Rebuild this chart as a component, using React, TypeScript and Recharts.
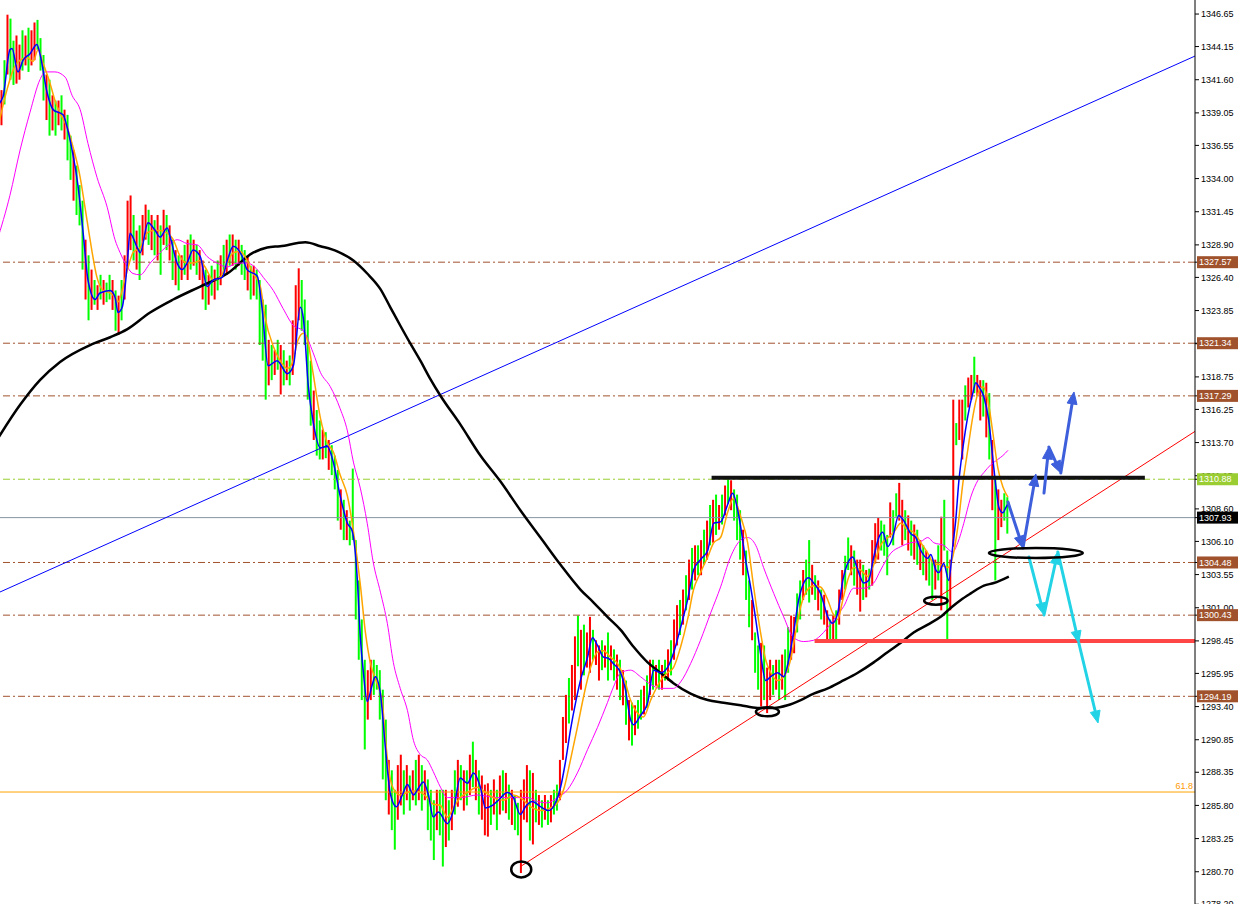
import React from 'react';
import { ComposedChart, Bar, Line, XAxis, YAxis, ReferenceLine, ReferenceDot } from 'recharts';

// ---- price axis ----
const yTicks = [1346.65, 1344.15, 1341.6, 1339.05, 1336.55, 1334.0, 1331.45, 1328.9, 1326.4, 1323.85, 1321.3, 1318.75, 1316.25, 1313.7, 1311.15, 1308.6, 1306.1, 1303.55, 1301.0, 1298.45, 1295.95, 1293.4, 1290.85, 1288.35, 1285.8, 1283.25, 1280.7, 1278.2];
const priceMin = 1278.22;
const priceMax = 1347.73;
const barSlots = 398;

// ---- bars (high / low / direction) ----
const highs = [
  1340.8, 1343.1, 1346.6, 1346.3, 1344.6, 1345.0, 1344.3, 1345.4, 1345.0, 1345.6,
  1345.4, 1346.0, 1346.2, 1344.8, 1343.5, 1342.0, 1341.6, 1340.4, 1340.0, 1340.0,
  1340.4, 1339.3, 1338.9, 1337.3, 1336.2, 1335.0, 1333.5, 1332.3, 1329.3, 1328.1,
  1327.0, 1326.2, 1325.8, 1326.6, 1326.2, 1326.0, 1326.6, 1326.2, 1325.4, 1325.0,
  1326.2, 1328.1, 1332.3, 1332.7, 1331.2, 1330.0, 1330.4, 1331.2, 1332.0, 1331.6,
  1331.2, 1330.8, 1331.2, 1330.4, 1331.6, 1331.2, 1330.4, 1329.3, 1328.5, 1328.1,
  1328.1, 1328.9, 1329.3, 1329.7, 1329.3, 1328.9, 1328.5, 1327.7, 1327.0, 1326.6,
  1327.3, 1327.0, 1327.7, 1328.1, 1328.9, 1329.3, 1329.7, 1329.7, 1329.3, 1329.3,
  1328.9, 1328.5, 1328.1, 1327.3, 1327.3, 1327.0, 1326.2, 1324.7, 1324.3, 1321.6,
  1321.2, 1320.8, 1321.6, 1321.2, 1320.8, 1320.0, 1320.4, 1323.1, 1325.8, 1327.1,
  1326.2, 1324.7, 1323.1, 1320.0, 1317.7, 1316.2, 1315.4, 1314.7, 1314.5, 1313.9,
  1313.5, 1312.7, 1311.6, 1310.1, 1309.3, 1308.5, 1307.7, 1311.7, 1306.2, 1303.1,
  1300.1, 1297.0, 1296.2, 1297.0, 1297.0, 1296.6, 1296.2, 1294.7, 1292.4, 1289.3,
  1288.5, 1287.0, 1288.9, 1289.7, 1288.5, 1288.9, 1288.1, 1288.5, 1289.3, 1289.7,
  1288.9, 1288.5, 1287.8, 1287.0, 1286.2, 1287.0, 1287.0, 1287.0, 1287.0, 1286.2,
  1287.0, 1288.5, 1289.3, 1288.9, 1288.5, 1288.5, 1289.7, 1290.7, 1289.3, 1288.5,
  1288.1, 1287.4, 1287.5, 1287.0, 1287.8, 1287.0, 1288.1, 1288.5, 1288.3, 1287.4,
  1287.0, 1286.6, 1286.0, 1287.0, 1287.8, 1288.9, 1288.5, 1288.3, 1287.0, 1286.6,
  1286.2, 1286.6, 1286.2, 1286.6, 1287.0, 1287.4, 1289.3, 1292.6, 1294.3, 1295.6,
  1296.6, 1298.8, 1300.4, 1299.3, 1299.7, 1299.1, 1300.3, 1299.3, 1298.5, 1298.1,
  1298.5, 1298.1, 1299.1, 1298.1, 1297.8, 1297.4, 1297.0, 1296.2, 1295.4, 1293.9,
  1293.7, 1293.5, 1293.9, 1294.7, 1295.0, 1295.8, 1297.0, 1297.0, 1296.6, 1297.0,
  1296.6, 1297.0, 1297.8, 1298.5, 1300.1, 1301.2, 1301.6, 1302.4, 1303.5, 1304.7,
  1305.6, 1305.8, 1305.8, 1306.2, 1307.0, 1307.7, 1308.9, 1309.3, 1309.7, 1308.9,
  1309.7, 1310.4, 1311.0, 1310.8, 1310.1, 1309.7, 1308.5, 1307.0, 1305.4, 1303.1,
  1301.6, 1299.1, 1298.1, 1298.3, 1298.1, 1296.4, 1297.0, 1296.6, 1297.0, 1297.0,
  1297.4, 1297.8, 1299.5, 1300.4, 1300.3, 1302.1, 1303.1, 1303.9, 1304.7, 1306.2,
  1304.3, 1303.5, 1303.1, 1302.4, 1302.0, 1300.8, 1300.1, 1300.4, 1300.8, 1302.4,
  1303.9, 1305.0, 1306.4, 1305.8, 1305.4, 1304.7, 1304.7, 1304.3, 1303.9, 1304.0,
  1306.2, 1307.5, 1307.9, 1307.7, 1307.4, 1306.6, 1309.1, 1308.5, 1309.8, 1310.6,
  1309.3, 1308.5, 1308.1, 1307.7, 1307.4, 1307.0, 1306.2, 1305.8, 1305.4, 1305.0,
  1304.7, 1304.7, 1305.8, 1308.0, 1309.3, 1305.4, 1304.7, 1317.0, 1315.2, 1317.0,
  1317.0, 1318.1, 1318.7, 1318.9, 1320.3, 1318.9, 1318.5, 1318.5, 1318.3, 1317.5,
  1313.9, 1311.0, 1310.1, 1309.3, 1309.8, 1309.5,
];
const lows = [
  1338.1, 1339.7, 1342.0, 1341.6, 1341.2, 1341.3, 1341.6, 1342.3, 1342.7, 1342.2,
  1342.7, 1343.1, 1343.9, 1342.3, 1340.0, 1338.5, 1337.3, 1337.7, 1337.3, 1338.1,
  1337.7, 1337.0, 1335.4, 1333.9, 1332.3, 1331.2, 1330.4, 1327.0, 1324.7, 1323.1,
  1323.9, 1324.3, 1323.9, 1324.7, 1324.3, 1324.5, 1324.7, 1323.9, 1322.3, 1322.0,
  1323.1, 1324.7, 1327.3, 1328.5, 1327.7, 1327.0, 1326.2, 1328.1, 1329.3, 1328.9,
  1328.5, 1328.1, 1327.7, 1326.6, 1328.9, 1328.5, 1327.7, 1326.2, 1325.8, 1325.4,
  1326.2, 1326.6, 1326.2, 1327.0, 1327.3, 1326.6, 1326.2, 1324.7, 1323.9, 1324.3,
  1325.0, 1324.7, 1325.4, 1325.8, 1326.6, 1326.6, 1327.3, 1327.3, 1327.0, 1327.3,
  1326.6, 1326.2, 1325.4, 1324.7, 1325.0, 1324.7, 1321.2, 1320.0, 1317.0, 1318.1,
  1318.5, 1318.9, 1319.3, 1317.4, 1318.1, 1318.5, 1318.1, 1318.9, 1321.2, 1323.1,
  1322.3, 1321.2, 1317.0, 1315.0, 1313.9, 1312.7, 1312.4, 1312.4, 1312.5, 1311.6,
  1311.2, 1310.1, 1307.7, 1307.0, 1306.2, 1306.2, 1305.8, 1306.2, 1300.1, 1297.0,
  1293.9, 1290.1, 1292.4, 1293.9, 1294.3, 1294.7, 1292.4, 1287.8, 1286.2, 1285.1,
  1283.9, 1282.4, 1284.7, 1285.8, 1285.1, 1286.2, 1285.4, 1286.2, 1285.8, 1286.2,
  1285.4, 1286.2, 1283.9, 1283.1, 1281.6, 1283.9, 1283.5, 1281.1, 1282.6, 1283.1,
  1283.9, 1285.1, 1285.7, 1286.2, 1285.4, 1285.8, 1286.6, 1287.2, 1286.2, 1285.1,
  1284.7, 1283.5, 1283.4, 1284.3, 1285.1, 1283.9, 1285.1, 1285.4, 1285.2, 1284.7,
  1284.3, 1283.9, 1283.5, 1280.6, 1284.7, 1284.5, 1283.1, 1282.8, 1284.5, 1284.3,
  1284.1, 1284.7, 1284.3, 1284.5, 1285.1, 1285.4, 1286.2, 1289.3, 1290.6, 1292.1,
  1293.1, 1293.9, 1296.5, 1294.7, 1295.8, 1296.4, 1296.0, 1297.0, 1296.6, 1295.4,
  1296.2, 1296.4, 1295.4, 1296.2, 1295.4, 1294.7, 1293.9, 1293.5, 1292.0, 1290.8,
  1290.4, 1291.2, 1291.7, 1292.4, 1292.8, 1293.3, 1294.3, 1294.7, 1295.0, 1294.7,
  1294.7, 1295.4, 1295.4, 1295.8, 1297.0, 1298.1, 1298.9, 1299.7, 1300.8, 1301.6,
  1302.4, 1303.1, 1303.5, 1303.5, 1304.3, 1304.7, 1305.8, 1306.0, 1306.6, 1307.0,
  1307.4, 1308.1, 1309.0, 1308.5, 1307.7, 1306.2, 1304.7, 1303.5, 1301.6, 1299.5,
  1298.5, 1296.0, 1294.7, 1293.4, 1293.9, 1292.9, 1293.9, 1294.3, 1294.7, 1293.9,
  1294.7, 1293.9, 1296.0, 1297.0, 1297.5, 1299.1, 1300.1, 1301.6, 1302.0, 1301.4,
  1302.0, 1301.6, 1300.8, 1300.1, 1299.7, 1298.5, 1298.5, 1298.5, 1298.5, 1299.7,
  1301.6, 1302.4, 1303.9, 1303.5, 1302.7, 1302.0, 1300.7, 1301.6, 1301.8, 1302.4,
  1302.7, 1304.4, 1304.7, 1305.4, 1305.0, 1303.5, 1306.4, 1305.8, 1308.0, 1307.7,
  1305.8, 1306.2, 1305.4, 1305.0, 1304.7, 1304.3, 1303.9, 1303.5, 1303.1, 1302.7,
  1301.6, 1302.4, 1303.1, 1300.8, 1305.4, 1298.5, 1300.8, 1305.7, 1313.5, 1313.9,
  1312.4, 1315.4, 1316.4, 1317.0, 1317.5, 1317.3, 1315.4, 1315.7, 1314.1, 1312.4,
  1308.5, 1303.1, 1306.2, 1307.2, 1307.7, 1306.7,
];
const dirs =
  'rgrggrrgrg' + 'rrgggrgrgr' + 'grggrgggrg' + 'rgrgrggrgr' + 'grrrgrgrrg' +
  'rgrgrgrgrg' + 'rgrgrgrrgr' + 'grgrgrgrgr' + 'ggrgrggggr' + 'grgrgrgrrr' +
  'ggggrggrgr' + 'gggrgrgggg' + 'ggrrgggggr' + 'ggrrgrgrgr' + 'grgggrggrg' +
  'rgrgrgrgrg' + 'rrrgrgrgrg' + 'rggrrrgrgr' + 'grgrggrrrg' + 'rrgrgrrgrr' +
  'grgrgrgrgr' + 'grggrgrgrg' + 'rgrgrrgrgr' + 'grgrgrgrgr' + 'grgrgggrgg' +
  'rggrgrrgrg' + 'rggrrggrgg' + 'rgrgrrgrgr' + 'rggrgrrgrg' + 'rrrgggrggr' +
  'rgrgrgrgrg' + 'grgrggrrgr' + 'rgrrgrrgrg' + 'rgrrgg';

// ---- moving averages (bar position, price) ----
const fastMA = [[-1,1339.6],[1,1340.3],[3.3,1343.9],[4,1344.0],[6,1342.2],[7.7,1343.1],[10,1343.6],[12.3,1344.3],[13.3,1343.6],[15.7,1340.6],[17.7,1339.3],[21,1338.9],[22.3,1338.0],[24,1336.2],[26,1333.4],[27.7,1329.8],[29.3,1326.2],[31.7,1324.7],[33.3,1325.2],[36.7,1325.4],[38.3,1324.9],[39.3,1323.7],[40.7,1324.1],[42.3,1327.2],[43.3,1329.8],[45.7,1328.7],[46.7,1328.3],[49.3,1330.6],[51.7,1330.0],[53.3,1329.5],[55.7,1330.2],[56.7,1329.5],[59,1327.5],[60.7,1327.0],[62.3,1327.5],[64.3,1328.5],[66.7,1328.0],[69,1325.7],[71,1326.2],[74,1326.4],[75.7,1327.7],[77.7,1328.8],[80.7,1328.0],[82.3,1327.0],[85.7,1326.5],[87.3,1324.0],[89.3,1319.6],[92.3,1320.0],[95.7,1319.0],[97.7,1319.6],[100,1324.1],[101,1323.3],[102.7,1318.0],[104.3,1315.3],[106.7,1313.3],[109,1313.4],[111,1312.2],[113.3,1309.6],[115.7,1307.5],[117.3,1306.9],[119,1303.2],[120,1298.8],[121,1296.1],[122.3,1293.8],[124,1295.1],[125,1295.7],[126.7,1294.4],[128.3,1290.4],[130,1286.7],[132,1285.7],[134,1286.6],[135.7,1287.4],[137.7,1286.6],[139.3,1287.1],[141,1287.6],[142.7,1286.6],[144.3,1284.9],[146,1285.3],[149,1284.4],[151,1285.4],[153.3,1287.9],[155.7,1287.5],[157.7,1288.3],[160,1287.2],[161.7,1285.6],[164,1285.8],[166,1286.2],[169,1286.8],[171,1286.4],[173.3,1285.1],[175,1285.7],[177.3,1286.1],[180,1285.7],[182.7,1285.4],[185,1286.0],[186.7,1287.2],[188.3,1289.1],[190,1291.6],[191.7,1293.7],[193.3,1295.4],[195.7,1297.2],[197.3,1298.7],[199,1298.1],[201,1297.2],[202.7,1297.1],[204.3,1296.7],[206.7,1296.0],[208.3,1294.7],[210,1292.4],[211,1292.0],[213.3,1292.7],[215.7,1293.7],[217.7,1296.2],[220,1296.0],[222.3,1296.4],[224.3,1297.5],[226.7,1299.5],[229,1301.6],[231,1303.9],[233.3,1304.7],[235.7,1305.4],[237.7,1307.5],[240,1307.6],[242.3,1308.9],[244,1309.8],[245.7,1308.5],[246.7,1307.2],[248.3,1304.7],[250,1302.6],[251.7,1300.1],[253.3,1297.5],[255,1295.4],[256.7,1295.7],[259,1296.0],[261,1295.7],[262.7,1297.0],[264.3,1299.1],[266,1301.6],[267.7,1302.9],[269.3,1303.3],[271,1302.9],[273.3,1302.1],[275.7,1300.3],[277.3,1299.8],[279,1300.6],[280.7,1303.1],[282.3,1304.4],[284,1304.9],[285.7,1303.9],[287.7,1302.9],[289.3,1303.1],[291,1304.9],[292.7,1306.4],[294,1306.8],[295.7,1305.7],[297.3,1306.4],[299.3,1308.1],[301,1307.7],[303.3,1306.7],[305,1306.4],[306.7,1305.4],[309,1304.8],[310,1305.1],[311.7,1303.9],[312.7,1303.7],[314.3,1304.4],[316,1303.1],[317.3,1305.7],[318.3,1307.7],[319.3,1310.6],[320.7,1313.3],[322.3,1315.7],[324,1317.5],[325,1318.3],[326,1318.0],[327.7,1317.2],[329.3,1315.4],[330.7,1312.4],[331.7,1310.3],[332.7,1308.7],[334,1308.3],[335,1308.7],[336,1309.1]];

const midMA = [[-1,1337.6],[2.3,1340.8],[4.3,1342.3],[6.7,1343.1],[9,1343.3],[11,1343.0],[12.7,1343.9],[14.3,1342.9],[16.7,1341.3],[18.3,1340.0],[20.7,1338.7],[22.3,1338.0],[24,1336.7],[26.7,1334.1],[28.3,1331.8],[30,1329.3],[32.3,1326.4],[34.3,1325.4],[36.7,1325.2],[38.3,1324.9],[39.3,1324.5],[41,1325.7],[42.7,1327.2],[44.3,1328.3],[46.7,1328.7],[49,1329.8],[51,1330.0],[53.3,1330.0],[55.7,1329.8],[57.7,1329.3],[60,1328.0],[62.3,1327.5],[64.3,1327.5],[66.7,1327.7],[68.3,1327.2],[71,1326.2],[73.3,1326.4],[75.7,1327.5],[77.7,1328.3],[80,1328.4],[82.3,1327.7],[84.3,1326.7],[86.7,1325.7],[88.3,1323.3],[91,1321.1],[93.3,1320.0],[95.7,1319.4],[97.3,1319.8],[99.3,1321.6],[101,1322.1],[102.7,1321.3],[104.3,1319.0],[106.7,1315.6],[109,1313.7],[111,1313.0],[113.3,1311.2],[115.7,1309.6],[117.7,1306.9],[120,1302.8],[121.7,1299.1],[123.3,1296.8],[125.7,1295.1],[127.3,1293.8],[128.3,1291.1],[129.3,1288.8],[131,1287.1],[133.3,1286.6],[135.7,1286.8],[137.7,1286.9],[140,1286.8],[142.3,1286.4],[144.3,1285.9],[146.7,1285.8],[149,1284.9],[151,1285.6],[153.3,1286.4],[155.7,1286.8],[159,1287.2],[161.7,1286.8],[164.3,1286.4],[167.7,1286.2],[171,1286.6],[173.3,1286.4],[176.7,1285.7],[180,1285.4],[183.3,1285.6],[185.7,1286.0],[187.7,1287.0],[190,1289.3],[192.3,1291.8],[194.3,1294.1],[196.7,1296.4],[199,1297.6],[201,1297.7],[203.3,1297.2],[205.7,1296.7],[207.7,1295.7],[210,1293.9],[212.3,1292.9],[214.3,1292.6],[216.7,1293.9],[220,1295.4],[222.3,1296.0],[224.3,1296.4],[226.7,1298.0],[229,1300.1],[231,1302.4],[233.3,1303.7],[235.7,1304.9],[237.7,1306.0],[240,1306.4],[242.3,1308.3],[244.3,1309.4],[246.7,1308.0],[249,1306.0],[251,1302.6],[253.3,1299.1],[255,1297.0],[256.7,1296.0],[259,1295.4],[261,1295.7],[263.3,1297.0],[265,1299.1],[266.7,1301.1],[269,1302.4],[271,1302.7],[273.3,1302.6],[275.7,1301.6],[277.3,1300.6],[279,1300.1],[280.7,1301.6],[282.3,1303.1],[284.3,1304.1],[286.7,1303.9],[289,1303.4],[291,1304.3],[293.3,1305.8],[295.7,1306.4],[297.7,1306.8],[300,1307.5],[302.3,1307.0],[304.3,1306.8],[306.7,1306.0],[309,1305.2],[311,1304.4],[313.3,1304.3],[315.7,1304.1],[317.3,1304.9],[319,1307.2],[320.7,1310.6],[322.3,1313.1],[324,1315.7],[325.7,1317.5],[327.3,1318.0],[329,1317.0],[330.7,1314.4],[332.3,1311.8],[334,1310.3],[335.7,1309.5]];

const slowMA = [[-1,1329.2],[3.3,1332.7],[6.7,1336.2],[10,1339.1],[13.3,1341.6],[15,1342.2],[18.3,1342.2],[21.7,1341.8],[24,1340.4],[26.7,1339.3],[29.3,1336.7],[32.3,1334.1],[35.7,1331.8],[38.3,1329.3],[40,1328.3],[41.7,1327.5],[44.3,1326.7],[46.7,1326.6],[50,1327.5],[53.3,1328.3],[56.7,1329.0],[59,1329.3],[62.3,1329.0],[65.7,1328.9],[69,1328.0],[72.3,1327.5],[75.7,1327.2],[79,1327.5],[82.3,1327.5],[85.7,1327.0],[87.7,1326.4],[91,1325.4],[94.3,1324.0],[97.7,1322.7],[101,1322.3],[104.3,1320.6],[106.7,1319.1],[110,1318.0],[113.3,1316.3],[115.7,1314.6],[117.7,1312.2],[120,1310.2],[122.3,1307.5],[124.3,1304.5],[126.7,1302.2],[129,1299.8],[131,1296.8],[133.3,1294.8],[135.7,1293.1],[137.7,1290.8],[140,1289.7],[142.3,1289.3],[144.3,1288.4],[146.7,1287.2],[149,1286.4],[151,1286.4],[153.3,1286.4],[159,1286.6],[165.7,1286.4],[172.3,1286.4],[175.7,1286.4],[179,1286.1],[182.3,1286.0],[185.7,1286.4],[189,1287.0],[192.3,1288.3],[195.7,1290.1],[199,1291.8],[202.3,1293.7],[204.3,1294.9],[206.7,1296.0],[210,1296.2],[213.3,1295.7],[216.7,1295.1],[220,1294.8],[224.3,1294.8],[226.7,1295.3],[230,1296.7],[233.3,1298.5],[236.7,1300.6],[240,1302.6],[243.3,1304.9],[246.7,1306.2],[249,1306.4],[251.7,1305.8],[254.3,1304.1],[257.7,1302.1],[261,1300.3],[264.3,1298.7],[267.7,1298.4],[271,1298.5],[274.3,1299.1],[277.7,1300.1],[281,1301.1],[284.3,1302.5],[287.7,1302.5],[291,1302.9],[293.3,1303.9],[296.7,1305.2],[300,1305.7],[303.3,1306.0],[306.7,1306.1],[309,1306.4],[311,1306.0],[314.3,1305.8],[317.3,1305.3],[319,1306.0],[321,1307.5],[323.3,1309.5],[325.7,1310.8],[327.7,1311.4],[330,1312.0],[332.3,1312.4],[334,1312.7],[335.7,1313.1]];

const longMA = [[-1,1313.9],[6.7,1316.6],[13.3,1318.5],[20,1319.9],[30,1321.2],[36.7,1321.8],[42.3,1322.4],[50,1323.7],[57.7,1324.7],[66.7,1325.7],[75.7,1326.7],[84.3,1328.3],[89,1328.7],[93.3,1328.8],[101.7,1329.1],[106.7,1328.8],[112.3,1328.4],[117.7,1327.7],[122.3,1326.7],[126.7,1325.5],[130,1324.1],[133.3,1322.7],[136.7,1321.3],[140,1320.0],[143.3,1318.6],[146.7,1317.3],[153.3,1315.1],[160,1312.7],[166.7,1310.7],[173.3,1308.5],[180,1306.4],[186.7,1304.3],[193.3,1302.4],[197.7,1301.4],[202.3,1300.3],[206.7,1299.3],[211,1298.0],[215.7,1296.8],[220,1296.0],[224.3,1295.2],[230,1294.4],[235.7,1293.9],[241,1293.7],[246.7,1293.5],[252.3,1293.3],[257.7,1293.3],[262.3,1293.5],[266.7,1293.9],[271,1294.4],[275.7,1294.8],[280,1295.3],[285.7,1296.0],[291,1296.8],[295.7,1297.6],[300,1298.3],[304.3,1299.1],[309,1299.7],[313.3,1300.3],[316.7,1301.0],[320,1301.6],[323.3,1302.1],[327.7,1302.7],[331,1302.9],[336,1303.4]];

// ---- horizontal levels ----
const brownLevels = [1327.57, 1321.34, 1317.29, 1304.48, 1300.43, 1294.19];
const greenLevel = 1310.88;
const lastPrice = 1307.93;
const fibLevel = 1286.83;
const fibLabel = '61.8';
const resistance = { from: 237, to: 381.3, price: 1311.0 };
const support = { from: 271.3, to: 398, price: 1298.45 };

// ---- trend lines [t1, p1, t2, p2] ----
const blueTrend = [0, 1302.21, 398, 1343.42];
const redTrend = [173.6, 1281.14, 398, 1314.56];

// ---- circled points (bar position, price) ----
const circledPoints = [[173.6, 1280.88], [255.6, 1293.0], [311.7, 1301.54], [345, 1305.21]];
const circleSizes = [[10, 8], [11.5, 4.5], [11.7, 4], [47, 5]];

// ---- scenario arrows [t1, p1, t2, p2] ----
const bullArrows = [
  [335.7, 1309.13, 340.7, 1305.59],
  [340.7, 1305.59, 345, 1311.28],
  [347.7, 1309.82, 349.3, 1313.36],
  [349.3, 1313.36, 353.3, 1311.36],
  [353.3, 1311.36, 357.7, 1317.59],
];
const bearArrows = [
  [342.7, 1304.9, 347.7, 1300.44],
  [347.7, 1300.44, 352.3, 1305.29],
  [352.3, 1305.29, 359.3, 1298.29],
  [359.3, 1298.29, 365.7, 1292.14],
];

const FONT = "'Liberation Sans', Arial, sans-serif";
const BROWN = '#a0522d';

// price tags drawn on the axis (value -> box colour)
const tagColors: Record<string, string> = {};
brownLevels.forEach((p) => { tagColors[p.toFixed(2)] = BROWN; });
tagColors[greenLevel.toFixed(2)] = '#9acd32';
tagColors[lastPrice.toFixed(2)] = '#000000';
const tagValues = [...brownLevels, greenLevel, lastPrice];
const axisValues = [...yTicks, ...tagValues];

const n = Math.min(highs.length, lows.length);
const barTable = highs.slice(0, n).map((h, k) => ({ t: k + 0.5, range: [lows[k], h], up: dirs[k] === 'g' }));
const toPts = (arr: number[][]) => arr.map(([t, v]) => ({ t, v }));

const OhlcBar = (props: any) => {
  const { x, y, width, height, payload } = props;
  if (x == null || y == null || !payload) return null;
  const top = height < 0 ? y + height : y;
  const h = Math.max(Math.abs(height || 0), 1);
  const cx = x + (width || 0) / 2;
  return <rect x={cx - 1} y={top} width={2} height={h} fill={payload.up ? '#00ff00' : '#ff0000'} />;
};

const makeArrow = (color: string, w: number) => (props: any) => {
  const { x1, y1, x2, y2 } = props;
  if ([x1, y1, x2, y2].some((v) => v == null || isNaN(v))) return null;
  const dx = x2 - x1;
  const dy = y2 - y1;
  const len = Math.hypot(dx, dy) || 1;
  const ux = dx / len;
  const uy = dy / len;
  const hl = 12;
  const hw = 5;
  const bx = x2 - ux * hl;
  const by = y2 - uy * hl;
  const pts = `${x2},${y2} ${bx - uy * hw},${by + ux * hw} ${bx + uy * hw},${by - ux * hw}`;
  return (
    <g>
      <line x1={x1} y1={y1} x2={bx + ux * 2} y2={by + uy * 2} stroke={color} strokeWidth={w} strokeLinecap="round" />
      <polygon points={pts} fill={color} stroke={color} strokeWidth={1} strokeLinejoin="round" />
    </g>
  );
};

const AxisTick = (props: any) => {
  const { x, y, payload } = props;
  if (x == null || y == null || !payload) return null;
  const key = Number(payload.value).toFixed(2);
  const isTag = tagValues.some((v) => v.toFixed(2) === key) && !yTicks.some((v) => v.toFixed(2) === key);
  if (isTag) {
    return (
      <g>
        <rect x={x - 4} y={y - 6} width={41} height={12} fill={tagColors[key]} />
        <text x={x - 2} y={y} dy="0.355em" fill="#ffffff" fontSize={9} fontFamily={FONT}>{key}</text>
      </g>
    );
  }
  return <text x={x} y={y} dy="0.355em" fill="#000000" fontSize={9} fontFamily={FONT}>{key}</text>;
};

const FibTag = ({ viewBox }: any) => {
  if (!viewBox) return null;
  return (
    <text x={viewBox.x + viewBox.width - 2} y={viewBox.y - 3} fill="#ff9900" fontSize={9} fontFamily={FONT} textAnchor="end">{fibLabel}</text>
  );
};

const bullShape = makeArrow('#3d5fdc', 3);
const bearShape = makeArrow('#22d3e6', 3);

export default function App() {
  return (
    <div style={{ position: 'absolute', left: 0, top: 0, width: 1243, height: 904, background: '#ffffff', fontFamily: FONT }}>
      <ComposedChart width={1243} height={904} data={barTable} margin={{ top: 0, right: 0, bottom: 0, left: 0 }}>
        <XAxis type="number" dataKey="t" domain={[0, barSlots]} hide allowDataOverflow />
        <YAxis
          orientation="right"
          type="number"
          domain={[priceMin, priceMax]}
          ticks={axisValues}
          interval={0}
          width={48}
          allowDataOverflow
          tick={<AxisTick />}
          tickSize={4}
          tickMargin={2}
          axisLine={{ stroke: '#000000' }}
          tickLine={{ stroke: '#000000' }}
        />
        {brownLevels.map((p) => (
          <ReferenceLine key={'b' + p} y={p} stroke={BROWN} strokeDasharray="7 3 2 3" ifOverflow="visible" />
        ))}
        <ReferenceLine y={greenLevel} stroke="#9acd32" strokeDasharray="7 3 2 3" ifOverflow="visible" />
        <ReferenceLine y={lastPrice} stroke="#8694a2" ifOverflow="visible" />
        <ReferenceLine y={fibLevel} stroke="#ffa500" ifOverflow="visible" label={(lp: any) => <FibTag viewBox={lp.viewBox || lp} />} />
        <ReferenceLine segment={[{ x: blueTrend[0], y: blueTrend[1] }, { x: blueTrend[2], y: blueTrend[3] }]} stroke="#0000ff" strokeWidth={1} ifOverflow="visible" />
        <ReferenceLine segment={[{ x: redTrend[0], y: redTrend[1] }, { x: redTrend[2], y: redTrend[3] }]} stroke="#ff0000" strokeWidth={1} ifOverflow="visible" />
        <Bar dataKey="range" barSize={2} shape={<OhlcBar />} isAnimationActive={false} />
        <Line data={toPts(longMA)} dataKey="v" type="monotone" stroke="#000000" strokeWidth={2.5} dot={false} activeDot={false} isAnimationActive={false} />
        <Line data={toPts(slowMA)} dataKey="v" type="monotone" stroke="#ff00ff" strokeWidth={1} dot={false} activeDot={false} isAnimationActive={false} />
        <Line data={toPts(midMA)} dataKey="v" type="monotone" stroke="#ffa500" strokeWidth={1.5} dot={false} activeDot={false} isAnimationActive={false} />
        <Line data={toPts(fastMA)} dataKey="v" type="monotone" stroke="#0000ff" strokeWidth={1.5} dot={false} activeDot={false} isAnimationActive={false} />
        <ReferenceLine segment={[{ x: resistance.from, y: resistance.price }, { x: resistance.to, y: resistance.price }]} stroke="#111111" strokeWidth={4} ifOverflow="visible" />
        <ReferenceLine segment={[{ x: support.from, y: support.price }, { x: support.to, y: support.price }]} stroke="#ff4646" strokeWidth={4} ifOverflow="visible" />
        {circledPoints.map(([t, p], k) => (
          <ReferenceDot key={'c' + k} x={t} y={p} r={4} ifOverflow="visible"
            shape={(sp: any) => <ellipse cx={sp.cx} cy={sp.cy} rx={circleSizes[k][0]} ry={circleSizes[k][1]} fill="none" stroke="#000000" strokeWidth={2.5} />} />
        ))}
        {bullArrows.map((a, k) => (
          <ReferenceLine key={'u' + k} segment={[{ x: a[0], y: a[1] }, { x: a[2], y: a[3] }]} shape={bullShape} ifOverflow="visible" />
        ))}
        {bearArrows.map((a, k) => (
          <ReferenceLine key={'d' + k} segment={[{ x: a[0], y: a[1] }, { x: a[2], y: a[3] }]} shape={bearShape} ifOverflow="visible" />
        ))}
      </ComposedChart>
    </div>
  );
}
